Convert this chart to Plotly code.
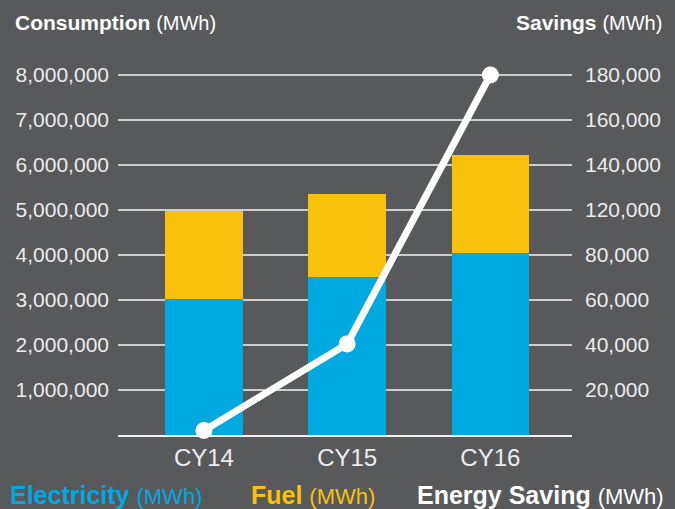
import numpy as np
import plotly.graph_objects as go

categories = ["CY14", "CY15", "CY16"]
electricity = [3030000, 3510000, 4050000]
fuel = [1950000, 1850000, 2170000]
savings = [2000, 40500, 180000]

left_tickvals = [1000000, 2000000, 3000000, 4000000, 5000000, 6000000, 7000000, 8000000]
left_ticktext = ["1,000,000", "2,000,000", "3,000,000", "4,000,000",
                 "5,000,000", "6,000,000", "7,000,000", "8,000,000"]
right_label_values = [20000, 40000, 60000, 80000, 120000, 140000, 160000, 180000]
right_ticktext = ["20,000", "40,000", "60,000", "80,000",
                  "120,000", "140,000", "160,000", "180,000"]

BG = "#58595b"
BLUE = "#00a9e0"
YELLOW = "#f8c20c"
FONT = "Liberation Sans, Arial, sans-serif"
TXT = "#ececec"

# right axis: labels sit on evenly spaced gridlines (as printed in the source)
right_tickvals = [20000 * (i + 1) for i in range(len(right_label_values))]
savings_pos = np.interp(savings, [0] + right_label_values, [0] + right_tickvals)

fig = go.Figure()
fig.add_trace(go.Bar(x=categories, y=electricity, marker=dict(color=BLUE, line=dict(width=0)),
                     name="Electricity", width=0.54, hoverinfo="skip"))
fig.add_trace(go.Bar(x=categories, y=fuel, marker=dict(color=YELLOW, line=dict(width=0)),
                     name="Fuel", width=0.54, hoverinfo="skip"))
fig.add_trace(go.Scatter(x=categories, y=savings_pos, yaxis="y2", mode="lines+markers",
                         line=dict(color="white", width=7),
                         marker=dict(color="white", size=17),
                         cliponaxis=False, name="Energy Saving", hoverinfo="skip"))

fig.update_layout(
    width=675, height=509,
    paper_bgcolor=BG, plot_bgcolor=BG,
    barmode="stack", bargap=0.46,
    showlegend=False,
    margin=dict(l=118, r=103, t=66, b=74),
    font=dict(family=FONT, color=TXT, size=20),
    xaxis=dict(range=[-0.6, 2.57], showgrid=False, zeroline=False,
               showline=True, linecolor="#f2f2f2", linewidth=2,
               tickfont=dict(size=24, color=TXT), ticks="", ticklabelstandoff=0),
    yaxis=dict(range=[0, 8200000], tickvals=left_tickvals, ticktext=left_ticktext,
               showgrid=True, gridcolor="#cdcdcd", gridwidth=1.5, zeroline=False,
               tickfont=dict(size=21, color=TXT), ticks="", ticklabelstandoff=8),
    yaxis2=dict(range=[0, 164000], tickvals=right_tickvals, ticktext=right_ticktext,
                overlaying="y", side="right", showgrid=False, zeroline=False,
                tickfont=dict(size=21, color=TXT), ticks="", ticklabelstandoff=12),
)

annos = [
    dict(x=13, y=23, xanchor="left",
         text="<b>Consumption</b> <span style='font-size:20px'>(MWh)</span>",
         font=dict(size=21, color="white")),
    dict(x=664, y=23, xanchor="right",
         text="<b>Savings</b> <span style='font-size:20px'>(MWh)</span>",
         font=dict(size=21, color="white")),
    dict(x=8, y=495, xanchor="left",
         text="<b>Electricity</b> <span style='font-size:22px'>(MWh)</span>",
         font=dict(size=25, color=BLUE)),
    dict(x=249, y=495, xanchor="left",
         text="<b>Fuel</b> <span style='font-size:22px'>(MWh)</span>",
         font=dict(size=25, color=YELLOW)),
    dict(x=666, y=495, xanchor="right",
         text="<b>Energy Saving</b> <span style='font-size:22px'>(MWh)</span>",
         font=dict(size=25, color="white")),
]
for a in annos:
    fig.add_annotation(xref="paper", yref="paper", showarrow=False, yanchor="middle",
                       x=(a["x"] - 118) / (675 - 118 - 103),
                       y=(509 - 74 - a["y"]) / (509 - 66 - 74),
                       xanchor=a["xanchor"], text=a["text"], font=a["font"])

fig.write_html("out.html", config={"displayModeBar": False},
               post_script="document.body.style.margin='0';document.body.style.background='#58595b';")
